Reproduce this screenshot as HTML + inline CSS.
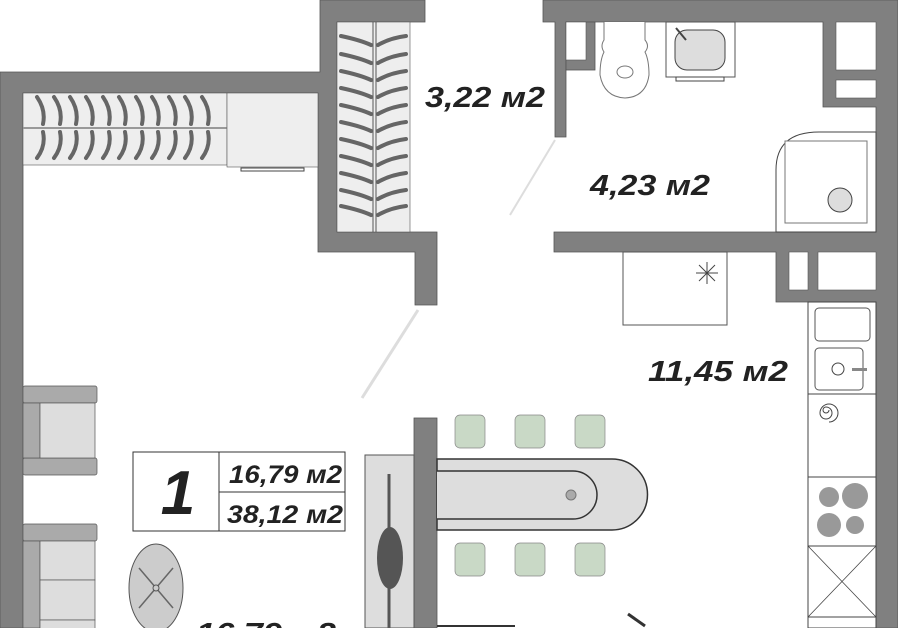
<!DOCTYPE html>
<html><head><meta charset="utf-8"><style>
html,body{margin:0;padding:0;background:#fff;width:898px;height:628px;overflow:hidden}
svg{display:block}
text{font-family:"Liberation Sans",sans-serif;font-style:italic;font-weight:bold;fill:#222}
</style></head><body>
<svg width="898" height="628" viewBox="0 0 898 628" xmlns="http://www.w3.org/2000/svg">
<g fill="#808080" stroke="#555" stroke-width="0.8">
<path d="M0,72 H320 V0 H425 V22 H337 V232 H437 V305 H415 V252 H318 V93 H23 V628 H0 Z"/>
<path d="M543,0 H898 V628 H876 V302 H776 V252 H554 V232 H876 V107 H823 V22 H566 V137 H555 V22 H543 Z"/>
<rect x="566" y="22" width="29" height="48"/>
<rect x="414" y="418" width="23" height="210"/>
</g>
<rect x="566" y="22" width="20" height="38" fill="#fff" stroke="#555" stroke-width="0.6"/>
<rect x="836" y="22" width="40" height="48" fill="#fff" stroke="#555" stroke-width="0.6"/>
<rect x="836" y="80" width="40" height="18" fill="#fff" stroke="#555" stroke-width="0.6"/>
<rect x="789" y="252" width="19" height="38" fill="#fff" stroke="#555" stroke-width="0.6"/>
<rect x="818" y="252" width="58" height="38" fill="#fff" stroke="#555" stroke-width="0.6"/>
<rect x="337" y="22" width="73" height="210" fill="#eee" stroke="#555" stroke-width="0.6"/>
<line x1="373" y1="22" x2="373" y2="232" stroke="#555"/><line x1="376" y1="22" x2="376" y2="232" stroke="#555"/>
<g stroke="#666" stroke-width="4" fill="none" stroke-linecap="round">
<path d="M341,36 Q360,40 371,45 M378,45 Q390,38 406,36"/><path d="M341,54 Q360,58 371,63 M378,63 Q390,56 406,54"/>
<path d="M341,71 Q360,75 371,80 M378,80 Q390,73 406,71"/><path d="M341,88 Q360,92 371,97 M378,97 Q390,90 406,88"/>
<path d="M341,105 Q360,109 371,114 M378,114 Q390,107 406,105"/><path d="M341,122 Q360,126 371,131 M378,131 Q390,124 406,122"/>
<path d="M341,139 Q360,143 371,148 M378,148 Q390,141 406,139"/><path d="M341,156 Q360,160 371,165 M378,165 Q390,158 406,156"/>
<path d="M341,173 Q360,177 371,182 M378,182 Q390,175 406,173"/><path d="M341,190 Q360,194 371,199 M378,199 Q390,192 406,190"/>
<path d="M341,206 Q360,210 371,215 M378,215 Q390,208 406,206"/>
</g>
<rect x="23" y="93" width="204" height="72" fill="#eee" stroke="#555" stroke-width="0.6"/>
<line x1="23" y1="128" x2="227" y2="128" stroke="#999" stroke-width="2"/>
<rect x="227" y="93" width="91" height="74" fill="#eee" stroke="#555" stroke-width="0.6"/>
<rect x="241" y="168" width="63" height="3" fill="#fff" stroke="#444"/>
<g stroke="#666" stroke-width="4" fill="none" stroke-linecap="round">
<path d="M37,97 Q46,110 43,124 M43,132 Q46,146 37,158"/><path d="M54,97 Q63,110 60,124 M60,132 Q63,146 54,158"/>
<path d="M70,97 Q79,110 76,124 M76,132 Q79,146 70,158"/><path d="M86,97 Q95,110 92,124 M92,132 Q95,146 86,158"/>
<path d="M103,97 Q112,110 109,124 M109,132 Q112,146 103,158"/><path d="M119,97 Q128,110 125,124 M125,132 Q128,146 119,158"/>
<path d="M136,97 Q145,110 142,124 M142,132 Q145,146 136,158"/><path d="M152,97 Q161,110 158,124 M158,132 Q161,146 152,158"/>
<path d="M169,97 Q178,110 175,124 M175,132 Q178,146 169,158"/><path d="M185,97 Q194,110 191,124 M191,132 Q194,146 185,158"/>
<path d="M202,97 Q211,110 208,124 M208,132 Q211,146 202,158"/>
</g>
<path d="M604,22 V40 Q600,46 604,52 Q600,60 600,75 Q604,97 625,98 Q646,97 649,75 Q649,60 645,52 Q650,46 645,40 V22" fill="#fff" stroke="#777"/>
<ellipse cx="625" cy="72" rx="8" ry="6" fill="#fff" stroke="#777"/>
<rect x="666" y="22" width="69" height="55" fill="#fff" stroke="#555"/>
<rect x="675" y="30" width="50" height="40" rx="12" fill="#ddd" stroke="#444"/>
<line x1="676" y1="28" x2="686" y2="40" stroke="#444" stroke-width="2"/>
<rect x="676" y="77" width="48" height="4" fill="#fff" stroke="#444"/>
<path d="M876,132 H819 Q776,132 776,170 V232 H876 Z" fill="#fff" stroke="#444"/>
<rect x="785" y="141" width="82" height="82" fill="#fff" stroke="#777"/>
<circle cx="840" cy="200" r="12" fill="#ddd" stroke="#444"/>
<line x1="555" y1="140" x2="510" y2="215" stroke="#ddd" stroke-width="2"/>
<line x1="418" y1="310" x2="362" y2="398" stroke="#ddd" stroke-width="3"/>
<rect x="623" y="252" width="104" height="73" fill="#fff" stroke="#555"/>
<g stroke="#444"><line x1="707" y1="262" x2="707" y2="284"/><line x1="696" y1="273" x2="718" y2="273"/><line x1="699" y1="265" x2="715" y2="281"/><line x1="715" y1="265" x2="699" y2="281"/></g>
<rect x="808" y="302" width="68" height="326" fill="#fff" stroke="#444"/>
<rect x="815" y="308" width="55" height="33" rx="4" fill="#fff" stroke="#555"/>
<rect x="815" y="348" width="48" height="42" rx="4" fill="#fff" stroke="#555"/>
<circle cx="838" cy="369" r="6" fill="#fff" stroke="#444"/>
<rect x="852" y="368" width="15" height="3" fill="#888"/>
<line x1="808" y1="394" x2="876" y2="394" stroke="#444"/>
<path d="M829,410 a3,3 0 1 1 -3,-3 a6,6 0 1 1 -6,6 a9,9 0 1 1 9,9" fill="none" stroke="#444"/>
<line x1="808" y1="477" x2="876" y2="477" stroke="#444"/>
<circle cx="829" cy="497" r="10" fill="#999"/><circle cx="855" cy="496" r="13" fill="#999"/>
<circle cx="829" cy="525" r="12" fill="#999"/><circle cx="855" cy="525" r="9" fill="#999"/>
<rect x="808" y="546" width="68" height="71" fill="#fff" stroke="#444"/>
<line x1="808" y1="546" x2="876" y2="617" stroke="#444" stroke-width="0.8"/><line x1="876" y1="546" x2="808" y2="617" stroke="#444" stroke-width="0.8"/>
<rect x="365" y="455" width="49" height="173" fill="#ddd" stroke="#555"/>
<line x1="389" y1="474" x2="389" y2="628" stroke="#555" stroke-width="3"/>
<ellipse cx="390" cy="558" rx="13" ry="31" fill="#555"/>
<path d="M437,459 H612 A35,35 0 0 1 612,530 H437 Z" fill="#ddd" stroke="#333" stroke-width="1.5"/>
<path d="M437,471 H573 A24,24 0 0 1 573,519 H437" fill="#ddd" stroke="#333" stroke-width="1.5"/>
<circle cx="571" cy="495" r="5" fill="#aaa" stroke="#777"/>
<g fill="#c9d9c6" stroke="#888" stroke-width="0.7">
<rect x="455" y="415" width="30" height="33" rx="5"/><rect x="515" y="415" width="30" height="33" rx="5"/><rect x="575" y="415" width="30" height="33" rx="5"/>
<rect x="455" y="543" width="30" height="33" rx="5"/><rect x="515" y="543" width="30" height="33" rx="5"/><rect x="575" y="543" width="30" height="33" rx="5"/>
</g>
<line x1="437" y1="626" x2="515" y2="626" stroke="#333" stroke-width="2"/>
<line x1="628" y1="614" x2="645" y2="626" stroke="#333" stroke-width="3"/>
<g fill="#aaa" stroke="#555" stroke-width="0.7">
<rect x="23" y="386" width="74" height="17" rx="2"/><rect x="23" y="458" width="74" height="17" rx="2"/><rect x="23" y="403" width="17" height="55"/>
<rect x="23" y="524" width="74" height="17" rx="2"/><rect x="23" y="541" width="17" height="87"/>
</g>
<g fill="#ddd" stroke="#555" stroke-width="0.7">
<rect x="40" y="403" width="55" height="55"/>
<rect x="40" y="541" width="55" height="39"/><rect x="40" y="580" width="55" height="40"/><rect x="40" y="620" width="55" height="20"/>
</g>
<ellipse cx="156" cy="588" rx="27" ry="44" fill="#ccc" stroke="#555"/>
<g stroke="#666" stroke-width="1.5"><line x1="139" y1="568" x2="173" y2="608"/><line x1="173" y1="568" x2="139" y2="608"/></g>
<circle cx="156" cy="588" r="3" fill="#ccc" stroke="#555"/>
<rect x="133" y="452" width="212" height="79" fill="#fff" stroke="#333"/>
<line x1="219" y1="452" x2="219" y2="531" stroke="#333"/>
<line x1="219" y1="492" x2="345" y2="492" stroke="#333"/>
<text x="178" y="514" font-size="62" text-anchor="middle">1</text>
<text x="229" y="483" font-size="25" font-weight="normal" textLength="113" lengthAdjust="spacingAndGlyphs">16,79 м2</text>
<text x="227" y="523" font-size="25" font-weight="normal" textLength="116" lengthAdjust="spacingAndGlyphs">38,12 м2</text>
<text x="425" y="107" font-size="29" textLength="120" lengthAdjust="spacingAndGlyphs">3,22 м2</text>
<text x="590" y="195" font-size="29" textLength="120" lengthAdjust="spacingAndGlyphs">4,23 м2</text>
<text x="648" y="381" font-size="29" textLength="140" lengthAdjust="spacingAndGlyphs">11,45 м2</text>
<text x="196" y="643" font-size="29" textLength="140" lengthAdjust="spacingAndGlyphs">16,79 м2</text>
</svg>
</body></html>
